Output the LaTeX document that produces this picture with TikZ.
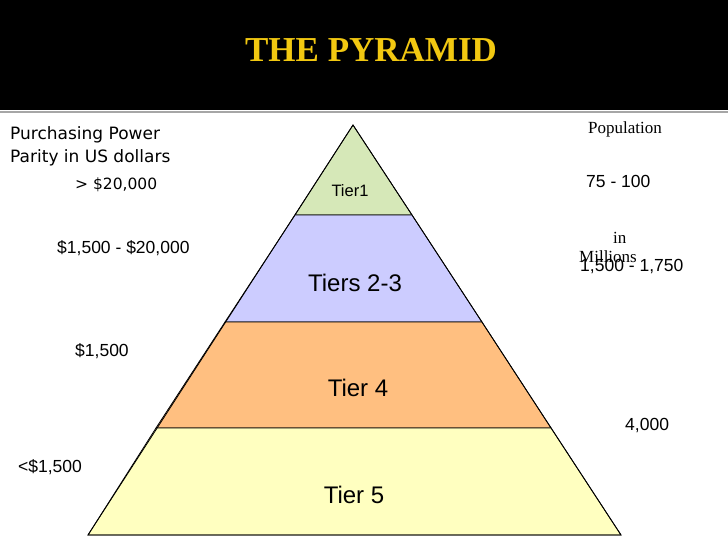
\documentclass[tikz,border=0pt]{standalone}
\usepackage{fontspec}
\setmainfont{Liberation Sans}
\newfontfamily\serifx{Liberation Serif}
\newfontfamily\trebx{DejaVu Sans}
\begin{document}
\begin{tikzpicture}[x=1pt,y=-1pt,
  tier/.style={draw=black,line width=0.8pt},
  lab/.style={anchor=west,inner sep=0pt,font=\fontsize{17.5}{17.5}\selectfont},
  tlab/.style={inner sep=0pt}]
\useasboundingbox (0,0) rectangle (728,546);
\fill[white] (0,0) rectangle (728,546);
\fill[black] (0,0) rectangle (728,110);
\draw[gray!70,line width=1.5pt] (0,112) -- (728,112);
\node[tlab] (title) at (371,50) {\serifx\bfseries\fontsize{35}{35}\selectfont\color[HTML]{F2C811}THE PYRAMID};
\coordinate (apex) at (353,125);
\fill[tier,fill={rgb,255:red,214;green,232;blue,184}] (apex) -- (412,215) -- (295,215) -- cycle;
\fill[tier,fill={rgb,255:red,204;green,204;blue,255}] (295,215) -- (412,215) -- (482,322) -- (225,322) -- cycle;
\fill[tier,fill={rgb,255:red,255;green,191;blue,128}] (225,322) -- (482,322) -- (551,428) -- (156,428) -- cycle;
\fill[tier,fill={rgb,255:red,255;green,255;blue,192}] (156,428) -- (551,428) -- (621,535) -- (88,535) -- cycle;
\draw[tier] (apex) -- (412,215) -- (621,535) -- (88,535) -- cycle;
\node[tlab,font=\fontsize{16.5}{16.5}\selectfont] (t1) at (350,191) {Tier1};
\node[tlab,font=\fontsize{24}{24}\selectfont] (t2) at (355,283) {Tiers 2-3};
\node[tlab,font=\fontsize{24}{24}\selectfont] (t4) at (358,388) {Tier 4};
\node[tlab,font=\fontsize{24}{24}\selectfont] (t5) at (354,495) {Tier 5};
\node[lab,font=\trebx\fontsize{17}{17}\selectfont] (pp1) at (10,135) {Purchasing Power};
\node[lab,font=\trebx\fontsize{17}{17}\selectfont] (pp2) at (10,158) {Parity in US dollars};
\node[lab,font=\trebx\fontsize{15.5}{15.5}\selectfont] (d1) at (75,185) {> \$20,000};
\node[lab] (d2) at (57,248) {\$1,500 - \$20,000};
\node[lab] (d3) at (75,351) {\$1,500};
\node[lab] (d4) at (18,467) {<\$1,500};
\node[lab,font=\serifx\fontsize{17}{17}\selectfont] (pop) at (588,129) {Population};
\node[lab] (p1) at (586,181) {75 - 100};
\node[lab,font=\serifx\fontsize{17}{17}\selectfont] (in) at (613,238) {in};
\node[lab,font=\serifx\fontsize{17}{17}\selectfont] (mil) at (579,257) {Millions};
\node[lab] (p2) at (580,267) {1,500 - 1,750};
\node[lab] (p3) at (625,426) {4,000};
\end{tikzpicture}
\end{document}
